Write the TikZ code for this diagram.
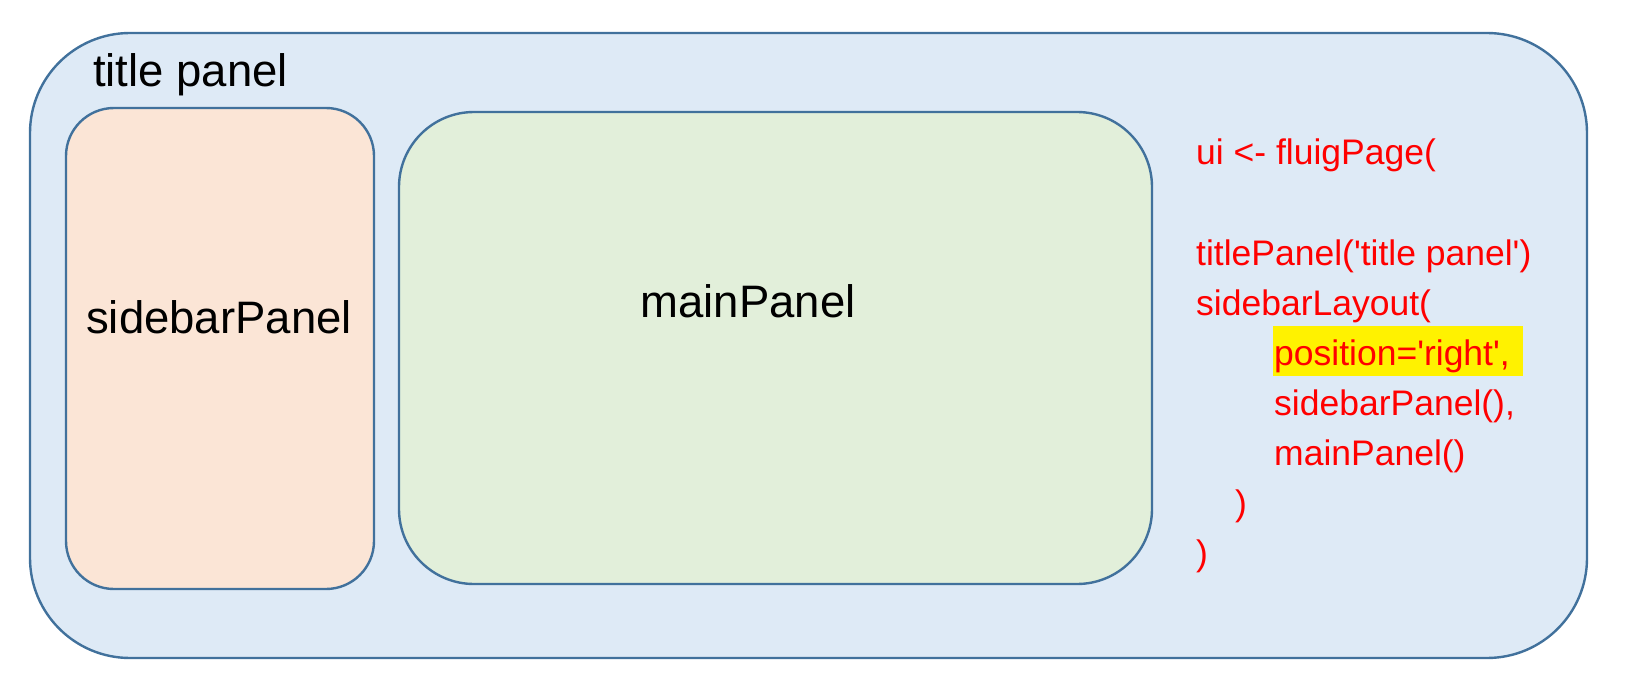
\documentclass[tikz,border=0pt]{standalone}
\usepackage{fontspec}
\setmainfont{Liberation Sans}
\newfontfamily\codefont{Liberation Sans}[Ligatures=TeXOff]
\definecolor{edgeblue}{HTML}{41719C}
\definecolor{outerfill}{HTML}{DEEAF6}
\definecolor{sidefill}{HTML}{FBE5D6}
\definecolor{mainfill}{HTML}{E2EFDA}
\definecolor{codered}{HTML}{FF0000}
\tikzset{
  panel/.style={draw=edgeblue, line width=2.4pt, inner sep=0pt, rectangle},
  biglabel/.style={font=\fontsize{45.5}{50}\selectfont, text=black, inner sep=0pt, anchor=base},
  codeline/.style={font=\codefont\fontsize{35.5}{40}\selectfont, text=codered, inner sep=0pt, anchor=base west},
}
\begin{document}
\begin{tikzpicture}[x=1pt,y=-1pt]
\useasboundingbox (0,0) rectangle (1642,698);
\node[panel, fill=outerfill, minimum width=1557pt, minimum height=625pt, rounded corners=100pt] (outer) at (808.5,345.5) {};
\node[panel, fill=sidefill, minimum width=308pt, minimum height=481pt, rounded corners=48pt] (side) at (220,348.5) {};
\node[panel, fill=mainfill, minimum width=753pt, minimum height=472pt, rounded corners=75pt] (main) at (775.5,348) {};
\node[biglabel, anchor=base west] (title) at (93,87) {title panel};
\node[biglabel] (sidelabel) at (219,333) {sidebarPanel};
\node[biglabel] (mainlabel) at (748,317) {mainPanel};
\node[fill=yellow, inner sep=0pt, minimum width=250pt, minimum height=50pt, anchor=north west] (hl) at (1273,326) {};
\node[codeline] (c1) at (1196,165) {ui <- fluigPage(};
\node[codeline] (c2) at (1196,265) {titlePanel('title panel')};
\node[codeline] (c3) at (1196,315) {sidebarLayout(};
\node[codeline] (c4) at (1274,365) {position='right',};
\node[codeline] (c5) at (1274,415) {sidebarPanel(),};
\node[codeline] (c6) at (1274,465) {mainPanel()};
\node[codeline] (c7) at (1235,515) {)};
\node[codeline] (c8) at (1196,565) {)};
\end{tikzpicture}
\end{document}
